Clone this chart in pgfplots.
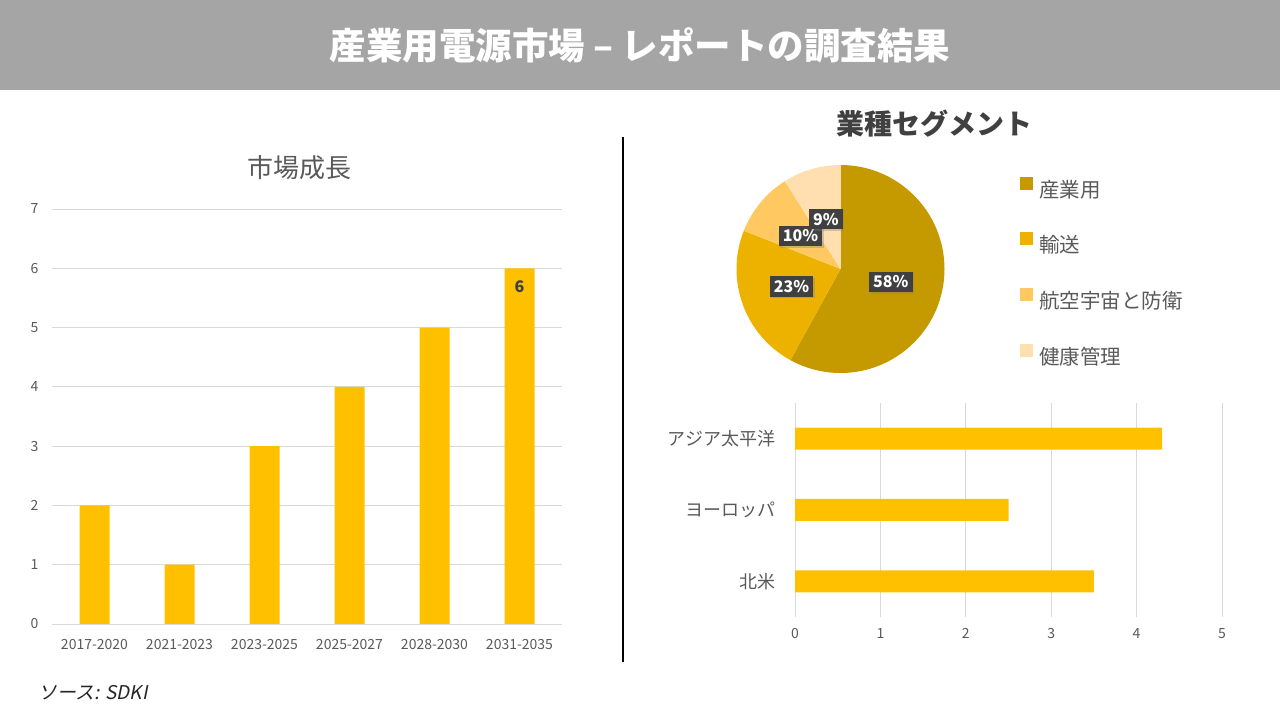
\documentclass[border=0pt]{standalone}
\usepackage{fontspec}
\setmainfont{Noto Sans CJK JP}
\newfontfamily\itfont[FakeSlant=0.2]{Noto Sans CJK JP}
\usepackage{pgfplots}
\usepackage{pgfplotstable}
\pgfplotsset{compat=1.18}
\usetikzlibrary{shadows}

\definecolor{headc}{HTML}{A5A5A5}
\definecolor{barc}{HTML}{FFC000}
\definecolor{gridc}{HTML}{D9D9D9}
\definecolor{txtc}{HTML}{595959}
\definecolor{darkc}{HTML}{404040}
\definecolor{pieA}{HTML}{C49A00}
\definecolor{pieB}{HTML}{EDB100}
\definecolor{pieC}{HTML}{FFC861}
\definecolor{pieD}{HTML}{FFDFB0}

% shares of the pie, clockwise from 12 o'clock
\pgfplotstableread{
share
58
23
10
9
}\piedata
\pgfplotstablegetelem{0}{share}\of\piedata \let\sA\pgfplotsretval
\pgfplotstablegetelem{1}{share}\of\piedata \let\sB\pgfplotsretval
\pgfplotstablegetelem{2}{share}\of\piedata \let\sC\pgfplotsretval
\pgfplotstablegetelem{3}{share}\of\piedata \let\sD\pgfplotsretval
\pgfmathsetmacro\aA{90-3.6*\sA}
\pgfmathsetmacro\aB{\aA-3.6*\sB}
\pgfmathsetmacro\aC{\aB-3.6*\sC}
\pgfmathsetmacro\aD{\aC-3.6*\sD}
\pgfmathsetmacro\mA{90-1.8*\sA}
\pgfmathsetmacro\mB{\aA-1.8*\sB}
\pgfmathsetmacro\mC{\aB-1.8*\sC}
\pgfmathsetmacro\mD{\aC-1.8*\sD}

\begin{document}
\begin{tikzpicture}
\path[use as bounding box] (0,0) rectangle (1280pt,720pt);

% header
\fill[headc] (0,630pt) rectangle (1280pt,720pt);
\node[text=white, font=\fontsize{36.5}{40}\selectfont\bfseries] at (640pt,675pt)
  {産業用電源市場 – レポートの調査結果};

% separator
\draw[line width=1.2pt] (623pt,58pt) -- (623pt,583pt);

% source
\node[anchor=west, font=\fontsize{19}{22}\selectfont\itfont, text=black!85] at (35pt,27pt)
  {ソース: SDKI};

% market growth
\node[font=\fontsize{26}{30}\selectfont, text=txtc] at (299pt,552pt) {市場成長};
\begin{axis}[
    at={(52pt,96pt)}, anchor=south west,
    scale only axis, width=510pt, height=415pt,
    ybar, bar width=30pt,
    xmin=-0.5, xmax=5.5, ymin=0, ymax=7,
    ytick={0,...,7},
    xtick=data,
    xticklabels={2017-2020,2021-2023,2023-2025,2025-2027,2028-2030,2031-2035},
    axis line style={draw=none}, tick style={draw=none},
    ymajorgrids, major grid style={gridc, line width=0.8pt},
    ticklabel style={font=\fontsize{14}{16}\selectfont, text=txtc},
    /pgf/number format/assume math mode=true,
    xticklabel style={yshift=-8pt},
    yticklabel style={xshift=-10pt},
    nodes near coords, point meta=explicit symbolic,
    nodes near coords align={below},
    every node near coord/.append style={font=\fontsize{16}{18}\selectfont\bfseries, text=darkc, yshift=-9pt},
  ]
  \addplot[fill=barc, draw=none] coordinates {
    (0,2)[] (1,1)[] (2,3)[] (3,4)[] (4,5)[] (5,6)[6]
  };
\end{axis}

% industry segment pie
\node[font=\fontsize{28}{32}\selectfont\bfseries, text=darkc] at (934pt,596pt) {業種セグメント};
\begin{axis}[
    at={(736.5pt,347pt)}, anchor=south west,
    scale only axis, width=208pt, height=208pt,
    xmin=-1, xmax=1, ymin=-1, ymax=1,
    hide axis,
    legend style={
      at={(1.3486,0.955)}, anchor=north west,
      draw=none, fill=none, row sep=31pt,
      font=\fontsize{20.5}{24}\selectfont, text=txtc,
      nodes={inner sep=0pt, text height=15pt, text depth=4pt},
    },
    legend cell align=left,
    legend image code/.code={
      \path[draw=none, fill=none] (0pt,0pt) -- (19pt,0pt);
      \fill[#1] (0pt,3pt) rectangle (12pt,15pt);
    },
  ]
  \addlegendimage{pieA}\addlegendentry{産業用}
  \addlegendimage{pieB}\addlegendentry{輸送}
  \addlegendimage{pieC}\addlegendentry{航空宇宙と防衛}
  \addlegendimage{pieD}\addlegendentry{健康管理}
  \fill[pieA] (axis cs:0,0) -- ++(90:104pt) arc[start angle=90, end angle=\aA, radius=104pt] -- cycle;
  \fill[pieB] (axis cs:0,0) -- ++(\aA:104pt) arc[start angle=\aA, end angle=\aB, radius=104pt] -- cycle;
  \fill[pieC] (axis cs:0,0) -- ++(\aB:104pt) arc[start angle=\aB, end angle=\aC, radius=104pt] -- cycle;
  \fill[pieD] (axis cs:0,0) -- ++(\aC:104pt) arc[start angle=\aC, end angle=\aD, radius=104pt] -- cycle;
  \tikzset{lbl/.style={fill=darkc, text=white, inner xsep=4pt, inner ysep=4pt,
      font=\fontsize{16}{18}\selectfont\bfseries,
      drop shadow={shadow xshift=1.5pt, shadow yshift=-1.5pt, opacity=0.35}}}
  \node[lbl] at (axis cs:{0.5*cos(\mA)},{0.5*sin(\mA)}) {\sA\%};
  \node[lbl] at (axis cs:{0.5*cos(\mB)},{0.5*sin(\mB)}) {\sB\%};
  \node[lbl] at (axis cs:{0.5*cos(\mC)},{0.5*sin(\mC)}) {\sC\%};
  \node[lbl] at (axis cs:{0.5*cos(\mD)},{0.5*sin(\mD)}) {\sD\%};
\end{axis}

% regions
\begin{axis}[
    at={(795pt,103pt)}, anchor=south west,
    scale only axis, width=427pt, height=214pt,
    xbar, bar width=22pt,
    xmin=0, xmax=5, ymin=-0.5, ymax=2.5,
    xtick={0,...,5}, ytick={0,1,2},
    yticklabels={北米,ヨーロッパ,アジア太平洋},
    axis line style={draw=none}, tick style={draw=none},
    xmajorgrids, major grid style={gridc, line width=0.8pt},
    ticklabel style={text=txtc},
    xticklabel style={font=\fontsize{14}{16}\selectfont, yshift=-8pt},
    yticklabel style={font=\fontsize{18}{22}\selectfont, xshift=-12pt},
    /pgf/number format/assume math mode=true,
  ]
  \addplot[fill=barc, draw=none] coordinates {(3.5,0) (2.5,1) (4.3,2)};
\end{axis}
\end{tikzpicture}
\end{document}
